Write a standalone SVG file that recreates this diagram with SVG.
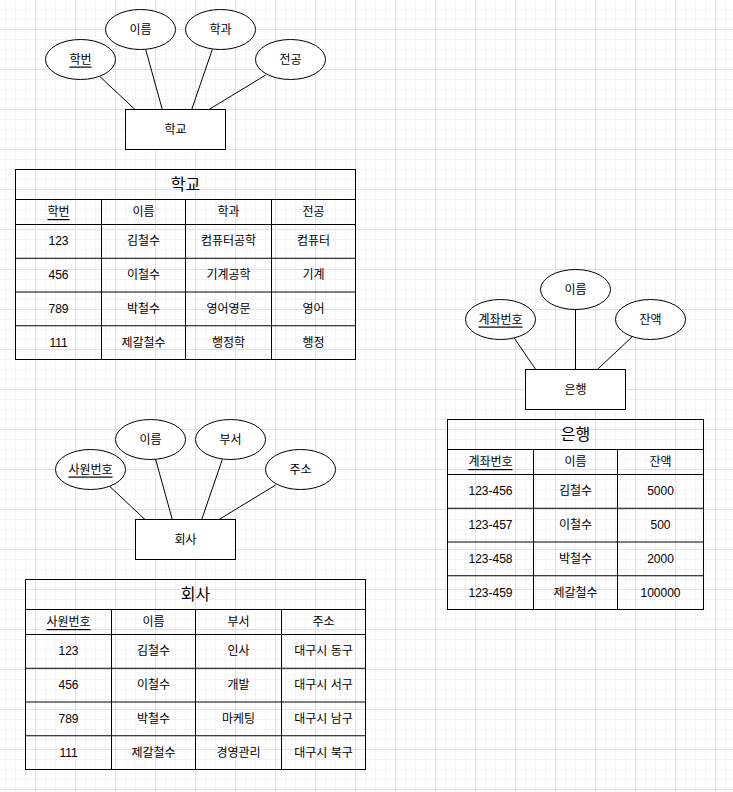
<svg xmlns="http://www.w3.org/2000/svg" width="733" height="792" viewBox="0 0 733 792">
<style>
text { font-family: "Liberation Sans", "Noto Sans CJK KR", sans-serif; font-size: 12px; fill: #000; text-anchor: middle; dominant-baseline: central; }
.title { font-size: 16px; }
.key { text-decoration: underline; }
.shape { fill: #fff; stroke: #000; stroke-width: 1; }
.edge { stroke: #000; stroke-width: 1; fill: none; }
.tbl { fill: none; stroke: #000; stroke-width: 1; }
</style>
<defs>
<pattern id="grid" patternUnits="userSpaceOnUse" x="35" y="29" width="40" height="40">
<rect width="40" height="40" fill="#fff"/>
<path d="M10.5 0V40M20.5 0V40M30.5 0V40M0 10.5H40M0 20.5H40M0 30.5H40" stroke="#f3f3f3" stroke-width="1" fill="none"/>
<path d="M0.5 0V40M0 0.5H40" stroke="#e0e0e0" stroke-width="1" fill="none"/>
</pattern>
</defs>
<rect width="733" height="792" fill="url(#grid)"/>

<g id="connectors">
<line class="edge" x1="100" y1="76.7" x2="135" y2="109.5"/>
<line class="edge" x1="145.7" y1="49.5" x2="162.3" y2="109.5"/>
<line class="edge" x1="212.3" y1="49.5" x2="191.7" y2="109.5"/>
<line class="edge" x1="265.7" y1="75" x2="209" y2="109.5"/>
<line class="edge" x1="110" y1="486.7" x2="145" y2="519.5"/>
<line class="edge" x1="155.7" y1="459.5" x2="172.3" y2="519.5"/>
<line class="edge" x1="222.3" y1="459.5" x2="201.7" y2="519.5"/>
<line class="edge" x1="275.7" y1="485" x2="219" y2="519.5"/>
<line class="edge" x1="514" y1="337.7" x2="535.7" y2="369.5"/>
<line class="edge" x1="575.5" y1="309.5" x2="575.5" y2="369.5"/>
<line class="edge" x1="632.3" y1="336.7" x2="597.3" y2="369.5"/>
</g>

<g id="school-entity"><rect class="shape" x="125.5" y="109.5" width="100" height="40"/><text x="175.5" y="129.5">학교</text></g>
<g id="school-attr-id"><ellipse class="shape" cx="80.5" cy="59.5" rx="35" ry="20"/><text class="key" x="80.5" y="59.5">학번</text></g>
<g id="school-attr-name"><ellipse class="shape" cx="140.5" cy="29.5" rx="35" ry="20"/><text x="140.5" y="29.5">이름</text></g>
<g id="school-attr-dept"><ellipse class="shape" cx="220.5" cy="29.5" rx="35" ry="20"/><text x="220.5" y="29.5">학과</text></g>
<g id="school-attr-major"><ellipse class="shape" cx="290.5" cy="59.5" rx="35" ry="20"/><text x="290.5" y="59.5">전공</text></g>

<g id="company-entity"><rect class="shape" x="135.5" y="519.5" width="100" height="40"/><text x="185.5" y="539.5">회사</text></g>
<g id="company-attr-id"><ellipse class="shape" cx="90.5" cy="469.5" rx="35" ry="20"/><text class="key" x="90.5" y="469.5">사원번호</text></g>
<g id="company-attr-name"><ellipse class="shape" cx="150.5" cy="439.5" rx="35" ry="20"/><text x="150.5" y="439.5">이름</text></g>
<g id="company-attr-dept"><ellipse class="shape" cx="230.5" cy="439.5" rx="35" ry="20"/><text x="230.5" y="439.5">부서</text></g>
<g id="company-attr-addr"><ellipse class="shape" cx="300.5" cy="469.5" rx="35" ry="20"/><text x="300.5" y="469.5">주소</text></g>

<g id="bank-entity"><rect class="shape" x="525.5" y="369.5" width="100" height="40"/><text x="575.5" y="389.5">은행</text></g>
<g id="bank-attr-acct"><ellipse class="shape" cx="500.5" cy="319.5" rx="35" ry="20"/><text class="key" x="500.5" y="319.5">계좌번호</text></g>
<g id="bank-attr-name"><ellipse class="shape" cx="575.5" cy="289.5" rx="35" ry="20"/><text x="575.5" y="289.5">이름</text></g>
<g id="bank-attr-balance"><ellipse class="shape" cx="650.5" cy="319.5" rx="35" ry="20"/><text x="650.5" y="319.5">잔액</text></g>

<g id="school-table">
<rect class="tbl" x="15.5" y="169.5" width="340" height="190"/>
<path class="tbl" d="M15.5 199.5H355.5M15.5 224.5H355.5M15.5 258.25H355.5M15.5 292H355.5M15.5 325.75H355.5M101.5 199.5V359.5M185.5 199.5V359.5M271.5 199.5V359.5"/>
<text class="title" x="185.5" y="184.5">학교</text>
<text class="key" x="58.5" y="212">학번</text><text x="143.5" y="212">이름</text><text x="228.5" y="212">학과</text><text x="313.5" y="212">전공</text>
<text x="58.5" y="241.4">123</text><text x="143.5" y="241.4">김철수</text><text x="228.5" y="241.4">컴퓨터공학</text><text x="313.5" y="241.4">컴퓨터</text>
<text x="58.5" y="275.1">456</text><text x="143.5" y="275.1">이철수</text><text x="228.5" y="275.1">기계공학</text><text x="313.5" y="275.1">기계</text>
<text x="58.5" y="308.9">789</text><text x="143.5" y="308.9">박철수</text><text x="228.5" y="308.9">영어영문</text><text x="313.5" y="308.9">영어</text>
<text x="58.5" y="342.6">111</text><text x="143.5" y="342.6">제갈철수</text><text x="228.5" y="342.6">행정학</text><text x="313.5" y="342.6">행정</text>
</g>

<g id="company-table">
<rect class="tbl" x="25.5" y="579.5" width="340" height="190"/>
<path class="tbl" d="M25.5 609.5H365.5M25.5 634.5H365.5M25.5 668.25H365.5M25.5 702H365.5M25.5 735.75H365.5M111.5 609.5V769.5M195.5 609.5V769.5M281.5 609.5V769.5"/>
<text class="title" x="195.5" y="594.5">회사</text>
<text class="key" x="68.5" y="622">사원번호</text><text x="153.5" y="622">이름</text><text x="238.5" y="622">부서</text><text x="323.5" y="622">주소</text>
<text x="68.5" y="651.4">123</text><text x="153.5" y="651.4">김철수</text><text x="238.5" y="651.4">인사</text><text x="323.5" y="651.4">대구시 동구</text>
<text x="68.5" y="685.1">456</text><text x="153.5" y="685.1">이철수</text><text x="238.5" y="685.1">개발</text><text x="323.5" y="685.1">대구시 서구</text>
<text x="68.5" y="718.9">789</text><text x="153.5" y="718.9">박철수</text><text x="238.5" y="718.9">마케팅</text><text x="323.5" y="718.9">대구시 남구</text>
<text x="68.5" y="752.6">111</text><text x="153.5" y="752.6">제갈철수</text><text x="238.5" y="752.6">경영관리</text><text x="323.5" y="752.6">대구시 북구</text>
</g>

<g id="bank-table">
<rect class="tbl" x="447.5" y="419.5" width="256" height="190"/>
<path class="tbl" d="M447.5 449.5H703.5M447.5 474.5H703.5M447.5 508.25H703.5M447.5 542H703.5M447.5 575.75H703.5M533.5 449.5V609.5M617.5 449.5V609.5"/>
<text class="title" x="575.5" y="434.5">은행</text>
<text class="key" x="490.5" y="462">계좌번호</text><text x="575.5" y="462">이름</text><text x="660.5" y="462">잔액</text>
<text x="490.5" y="491.4">123-456</text><text x="575.5" y="491.4">김철수</text><text x="660.5" y="491.4">5000</text>
<text x="490.5" y="525.1">123-457</text><text x="575.5" y="525.1">이철수</text><text x="660.5" y="525.1">500</text>
<text x="490.5" y="558.9">123-458</text><text x="575.5" y="558.9">박철수</text><text x="660.5" y="558.9">2000</text>
<text x="490.5" y="592.6">123-459</text><text x="575.5" y="592.6">제갈철수</text><text x="660.5" y="592.6">100000</text>
</g>
</svg>
